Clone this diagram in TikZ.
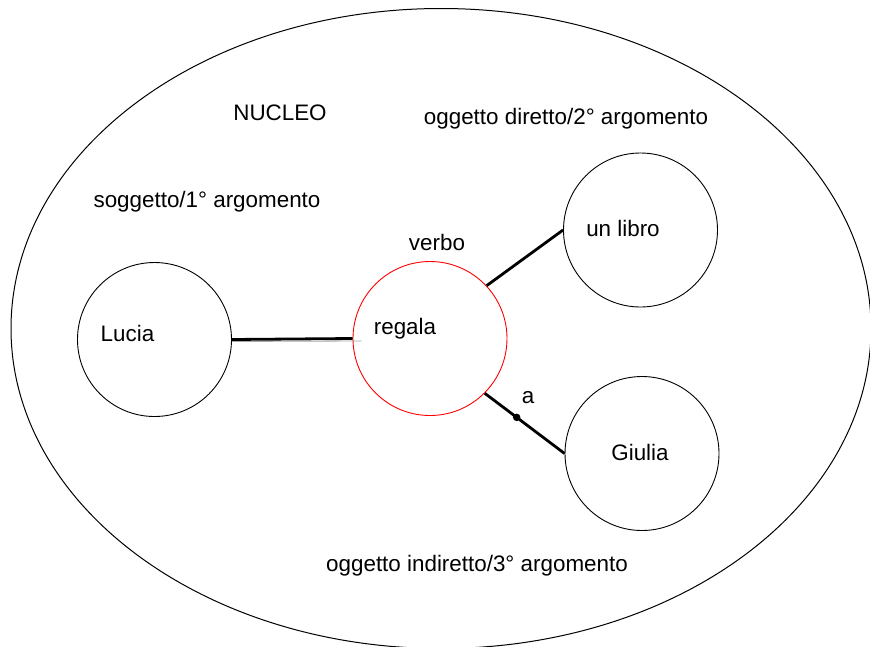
\documentclass[tikz,border=0pt]{standalone}
\usepackage{fontspec}
\setmainfont{Liberation Sans}
\usetikzlibrary{shapes.geometric}
\begin{document}
\begin{tikzpicture}[x=1pt,y=-1pt,
  every node/.style={font=\fontsize{22.4}{27}\selectfont},
  ring/.style={circle,draw=black,line width=0.9pt,minimum size=154pt,inner sep=0pt},
  redring/.style={circle,draw=red,line width=0.9pt,minimum size=154pt,inner sep=0pt},
  lab/.style={anchor=base,inner sep=0pt},
  link/.style={draw=black,line width=2.8pt}]
\useasboundingbox (0,0) rectangle (870,646);
\fill[white] (0,0) rectangle (870,646);
% outer ellipse
\node[draw=black,line width=1pt,ellipse,minimum width=860pt,minimum height=640pt,inner sep=0pt] (nucleo) at (441,328.5) {};
% circles
\node[ring] (lucia) at (154.5,339.5) {};
\node[redring] (regala) at (430,338.5) {};
\node[ring] (libro) at (640.5,230) {};
\node[ring] (giulia) at (642,453.5) {};
% texts
\node[lab] (tlucia) at (127.5,341) {Lucia};
\node[lab] (tregala) at (405,334) {regala};
\node[lab] (tverbo) at (437,250) {verbo};
\node[lab] (tlibro) at (623,236) {un libro};
\node[lab] (tgiulia) at (640,460) {Giulia};
\node[lab] (tnucleo) at (280,120) {NUCLEO};
\node[lab] (tod) at (566,124) {oggetto diretto/2° argomento};
\node[lab] (tsogg) at (207,207) {soggetto/1° argomento};
\node[lab] (toi) at (477,571) {oggetto indiretto/3° argomento};
% connectors
\draw[draw=gray!70,line width=0.8pt] ([yshift=-2pt]lucia.east) -- ([xshift=9pt,yshift=-2.5pt]regala.west);
\draw[link] (lucia.east) -- (regala.west);
\draw[link] (regala.43.7) -- (libro.180);
\draw[link] (regala.-45.3) -- node[pos=0.4,circle,fill=black,inner sep=0pt,minimum size=7.5pt] (dot) {} (giulia.180);
\node[lab] (ta) at (528,403) {a};
\end{tikzpicture}
\end{document}
